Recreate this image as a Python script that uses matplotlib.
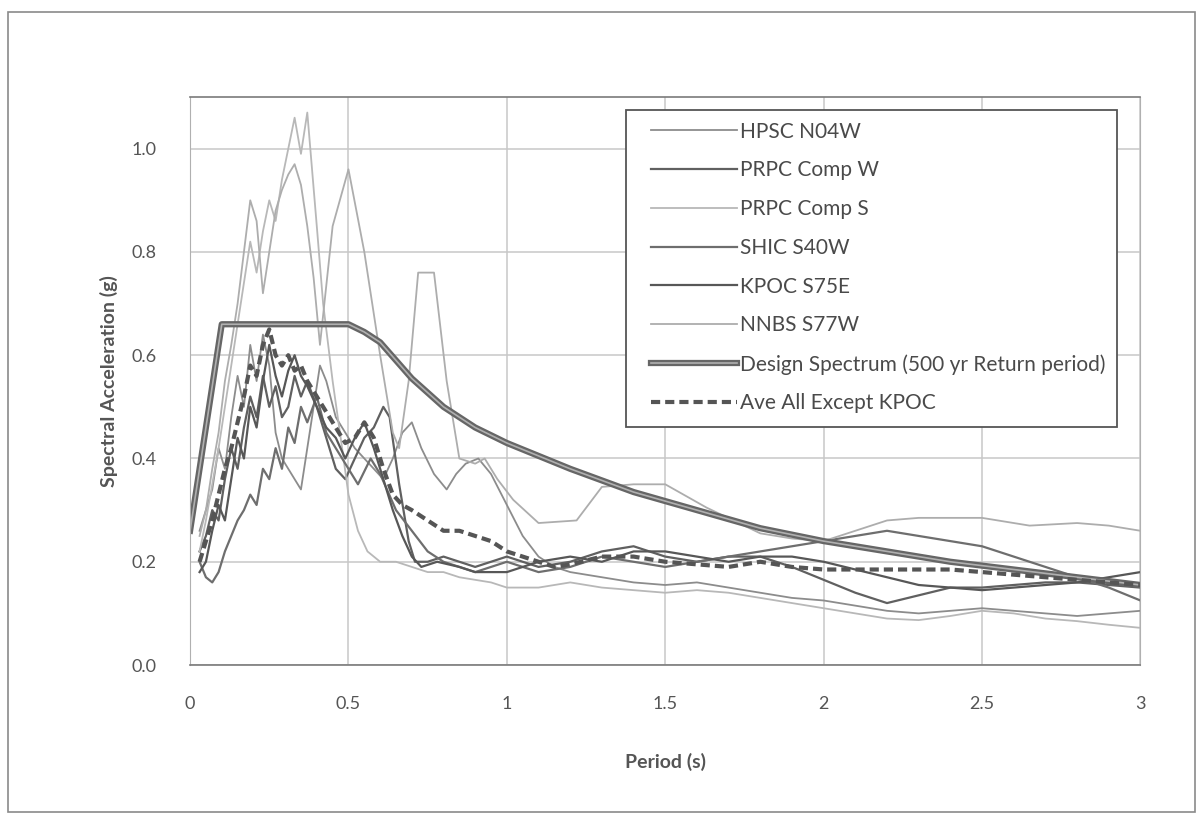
import matplotlib
matplotlib.use("Agg")
import matplotlib.pyplot as plt
import matplotlib.patheffects as pe
from matplotlib.patches import Rectangle

plt.rcParams['font.family'] = ['Lato', 'DejaVu Sans']

# ---- data ----
hpsc_t = [0.03, 0.05, 0.07, 0.09, 0.11, 0.13, 0.15, 0.17, 0.19, 0.21, 0.23, 0.25, 0.27, 0.29, 0.31, 0.33, 0.35,
          0.37, 0.39, 0.41, 0.43, 0.46, 0.49, 0.52, 0.55, 0.58, 0.61, 0.64, 0.67, 0.70, 0.73, 0.77, 0.81, 0.84,
          0.87, 0.91, 0.95, 1.0, 1.05, 1.1, 1.15, 1.2, 1.3, 1.4, 1.5, 1.6, 1.7, 1.8, 1.9, 2.0, 2.1, 2.2, 2.3,
          2.4, 2.5, 2.6, 2.7, 2.8, 2.9, 3.0]
hpsc_sa = [0.26, 0.30, 0.34, 0.42, 0.38, 0.48, 0.56, 0.50, 0.62, 0.55, 0.64, 0.58, 0.45, 0.40, 0.38, 0.36, 0.34,
           0.42, 0.50, 0.58, 0.55, 0.48, 0.45, 0.42, 0.40, 0.38, 0.36, 0.40, 0.45, 0.47, 0.42, 0.37, 0.34, 0.37,
           0.39, 0.40, 0.37, 0.31, 0.25, 0.21, 0.19, 0.18, 0.17, 0.16, 0.155, 0.16, 0.15, 0.14, 0.13, 0.125,
           0.115, 0.105, 0.10, 0.105, 0.11, 0.105, 0.10, 0.095, 0.10, 0.105]

prpcw_t = [0.03, 0.05, 0.07, 0.09, 0.11, 0.13, 0.15, 0.17, 0.19, 0.21, 0.23, 0.25, 0.27, 0.29, 0.31, 0.33, 0.35,
           0.37, 0.40, 0.43, 0.46, 0.49, 0.52, 0.55, 0.58, 0.61, 0.63, 0.66, 0.69, 0.71, 0.75, 0.80, 0.85, 0.90,
           0.95, 1.0, 1.05, 1.1, 1.2, 1.3, 1.4, 1.5, 1.6, 1.7, 1.8, 1.9, 2.0, 2.1, 2.2, 2.3, 2.4, 2.5, 2.6, 2.7,
           2.8, 2.9, 3.0]
prpcw_sa = [0.22, 0.25, 0.30, 0.28, 0.36, 0.42, 0.38, 0.46, 0.52, 0.48, 0.56, 0.50, 0.54, 0.48, 0.50, 0.56, 0.52,
            0.55, 0.50, 0.44, 0.38, 0.36, 0.40, 0.44, 0.46, 0.50, 0.48, 0.35, 0.24, 0.20, 0.20, 0.21, 0.20, 0.19,
            0.20, 0.21, 0.20, 0.19, 0.20, 0.22, 0.23, 0.21, 0.20, 0.21, 0.21, 0.19, 0.165, 0.14, 0.12, 0.135,
            0.15, 0.15, 0.155, 0.16, 0.16, 0.155, 0.15]

prpcs_t = [0.03, 0.05, 0.07, 0.09, 0.11, 0.13, 0.15, 0.17, 0.19, 0.21, 0.23, 0.25, 0.27, 0.29, 0.31, 0.33, 0.35,
           0.37, 0.40, 0.42, 0.45, 0.48, 0.50, 0.53, 0.56, 0.60, 0.65, 0.70, 0.75, 0.80, 0.85, 0.90, 0.95, 1.0,
           1.1, 1.2, 1.3, 1.4, 1.5, 1.6, 1.7, 1.8, 1.9, 2.0, 2.1, 2.2, 2.3, 2.4, 2.5, 2.6, 2.7, 2.8, 2.9, 3.0]
prpcs_sa = [0.22, 0.28, 0.35, 0.42, 0.50, 0.58, 0.66, 0.74, 0.82, 0.76, 0.84, 0.90, 0.86, 0.94, 1.00, 1.06, 0.99,
            1.07, 0.85, 0.70, 0.55, 0.42, 0.33, 0.26, 0.22, 0.20, 0.20, 0.19, 0.18, 0.18, 0.17, 0.165, 0.16,
            0.15, 0.15, 0.16, 0.15, 0.145, 0.14, 0.145, 0.14, 0.13, 0.12, 0.11, 0.10, 0.09, 0.087, 0.095, 0.105,
            0.10, 0.09, 0.085, 0.078, 0.072]

shic_t = [0.03, 0.05, 0.07, 0.09, 0.11, 0.13, 0.15, 0.17, 0.19, 0.21, 0.23, 0.25, 0.27, 0.29, 0.31, 0.33, 0.35,
          0.37, 0.40, 0.43, 0.46, 0.50, 0.53, 0.57, 0.60, 0.65, 0.70, 0.75, 0.80, 0.85, 0.90, 0.95, 1.0, 1.05,
          1.1, 1.2, 1.3, 1.4, 1.5, 1.6, 1.7, 1.8, 1.9, 2.0, 2.1, 2.2, 2.3, 2.4, 2.5, 2.6, 2.7, 2.8, 2.9, 3.0]
shic_sa = [0.20, 0.17, 0.16, 0.18, 0.22, 0.25, 0.28, 0.30, 0.33, 0.31, 0.38, 0.36, 0.42, 0.38, 0.46, 0.43, 0.50,
           0.47, 0.52, 0.45, 0.42, 0.38, 0.35, 0.40, 0.37, 0.30, 0.26, 0.22, 0.20, 0.19, 0.18, 0.19, 0.20, 0.19,
           0.18, 0.19, 0.21, 0.20, 0.19, 0.20, 0.21, 0.22, 0.23, 0.24, 0.25, 0.26, 0.25, 0.24, 0.23, 0.21, 0.19,
           0.17, 0.15, 0.125]

kpoc_t = [0.03, 0.05, 0.07, 0.09, 0.11, 0.13, 0.15, 0.17, 0.19, 0.21, 0.23, 0.25, 0.27, 0.29, 0.31, 0.33, 0.35,
          0.37, 0.40, 0.43, 0.46, 0.49, 0.52, 0.55, 0.58, 0.61, 0.64, 0.67, 0.70, 0.73, 0.78, 0.85, 0.90, 1.0,
          1.1, 1.2, 1.3, 1.4, 1.5, 1.6, 1.7, 1.8, 1.9, 2.0, 2.1, 2.2, 2.3, 2.4, 2.5, 2.6, 2.7, 2.8, 2.9, 3.0]
kpoc_sa = [0.18, 0.20, 0.26, 0.31, 0.28, 0.36, 0.44, 0.40, 0.50, 0.46, 0.55, 0.62, 0.56, 0.52, 0.57, 0.60, 0.56,
           0.54, 0.50, 0.46, 0.44, 0.40, 0.44, 0.47, 0.42, 0.36, 0.30, 0.25, 0.21, 0.19, 0.20, 0.19, 0.18, 0.18,
           0.20, 0.21, 0.20, 0.22, 0.22, 0.21, 0.20, 0.21, 0.21, 0.20, 0.185, 0.17, 0.155, 0.15, 0.145, 0.15,
           0.155, 0.16, 0.17, 0.18]

nnbs_t = [0.03, 0.05, 0.07, 0.09, 0.11, 0.13, 0.15, 0.17, 0.19, 0.21, 0.23, 0.25, 0.27, 0.29, 0.31, 0.33, 0.35,
          0.37, 0.39, 0.41, 0.45, 0.50, 0.55, 0.60, 0.64, 0.66, 0.69, 0.72, 0.77, 0.81, 0.85, 0.90, 0.93, 0.97,
          1.02, 1.1, 1.22, 1.3, 1.4, 1.5, 1.63, 1.8, 1.9, 2.0, 2.1, 2.2, 2.3, 2.4, 2.5, 2.65, 2.8, 2.9, 3.0]
nnbs_sa = [0.25, 0.30, 0.38, 0.45, 0.55, 0.62, 0.70, 0.80, 0.90, 0.86, 0.72, 0.80, 0.88, 0.92, 0.95, 0.97, 0.93,
           0.85, 0.75, 0.62, 0.85, 0.96, 0.80, 0.60, 0.45, 0.42, 0.55, 0.76, 0.76, 0.55, 0.40, 0.39, 0.40, 0.36,
           0.32, 0.275, 0.28, 0.345, 0.35, 0.35, 0.305, 0.255, 0.245, 0.24, 0.26, 0.28, 0.285, 0.285, 0.285,
           0.27, 0.275, 0.27, 0.26]

design_t = [0.0, 0.1, 0.5, 0.55, 0.6, 0.65, 0.7, 0.8, 0.9, 1.0, 1.2, 1.4, 1.6, 1.8, 2.0, 2.2, 2.4, 2.6, 2.8, 3.0]
design_sa = [0.26, 0.66, 0.66, 0.645, 0.625, 0.59, 0.555, 0.50, 0.46, 0.43, 0.38, 0.335, 0.30, 0.265, 0.24,
             0.22, 0.20, 0.185, 0.17, 0.155]

ave_t = [0.03, 0.05, 0.07, 0.09, 0.11, 0.13, 0.15, 0.17, 0.19, 0.21, 0.23, 0.25, 0.27, 0.29, 0.31, 0.33, 0.35,
         0.37, 0.40, 0.43, 0.46, 0.49, 0.52, 0.55, 0.58, 0.61, 0.64, 0.67, 0.70, 0.75, 0.80, 0.85, 0.90, 0.95,
         1.0, 1.05, 1.1, 1.15, 1.2, 1.3, 1.4, 1.5, 1.6, 1.7, 1.8, 1.9, 2.0, 2.1, 2.2, 2.3, 2.4, 2.5, 2.6, 2.7,
         2.8, 2.9, 3.0]
ave_sa = [0.20, 0.24, 0.28, 0.33, 0.38, 0.42, 0.47, 0.52, 0.58, 0.56, 0.62, 0.65, 0.60, 0.58, 0.60, 0.57, 0.58,
          0.55, 0.52, 0.49, 0.46, 0.43, 0.44, 0.47, 0.44, 0.38, 0.33, 0.31, 0.30, 0.28, 0.26, 0.26, 0.25, 0.24,
          0.22, 0.21, 0.20, 0.19, 0.195, 0.21, 0.21, 0.20, 0.195, 0.19, 0.20, 0.19, 0.185, 0.185, 0.185, 0.185,
          0.185, 0.18, 0.175, 0.17, 0.165, 0.16, 0.155]

series = [
    ("HPSC N04W", hpsc_t, hpsc_sa, "#8c8c8c", 1.3),
    ("PRPC Comp W", prpcw_t, prpcw_sa, "#606060", 1.6),
    ("PRPC Comp S", prpcs_t, prpcs_sa, "#b8b8b8", 1.3),
    ("SHIC S40W", shic_t, shic_sa, "#6e6e6e", 1.6),
    ("KPOC S75E", kpoc_t, kpoc_sa, "#575757", 1.6),
    ("NNBS S77W", nnbs_t, nnbs_sa, "#adadad", 1.3),
]

# ---- figure ----
fig = plt.figure(figsize=(12.03, 8.19), dpi=100)
fig.patches.append(Rectangle((0.007, 0.008), 0.986, 0.977, transform=fig.transFigure,
                             fill=False, edgecolor="#8a8a8a", linewidth=1.2))
ax = fig.add_axes([0.158, 0.188, 0.790, 0.6935])

for name, t, sa, c, lw in series:
    ax.plot(t, sa, color=c, linewidth=lw, label=name)

ax.plot(design_t, design_sa, color="#b0b0b0", linewidth=1.2,
        label="Design Spectrum (500 yr Return period)",
        path_effects=[pe.Stroke(linewidth=4.5, foreground="#666666"), pe.Normal()])
ax.plot(ave_t, ave_sa, color="#555555", linewidth=3, linestyle=(0, (2.2, 1.2)),
        label="Ave All Except KPOC")

ax.set_xlim(0, 3)
ax.set_ylim(0, 1.1)
ax.set_xticks([0, 0.5, 1, 1.5, 2, 2.5, 3])
ax.set_xticklabels(["0", "0.5", "1", "1.5", "2", "2.5", "3"])
ax.set_yticks([0, 0.2, 0.4, 0.6, 0.8, 1.0])
ax.set_yticklabels(["0.0", "0.2", "0.4", "0.6", "0.8", "1.0"])
ax.tick_params(length=0, labelsize=13, labelcolor="#555555", pad=22)
ax.tick_params(axis="y", pad=24)
ax.grid(True, color="#c8c8c8", linewidth=1.1)
ax.set_axisbelow(True)
for side in ["top", "bottom"]:
    ax.spines[side].set_color("#7a7a7a")
    ax.spines[side].set_linewidth(1.2)
ax.spines["left"].set_color("#b0b0b0")
ax.spines["right"].set_color("#b0b0b0")

ax.set_xlabel("Period (s)", fontsize=14, color="#555555", fontweight="bold", labelpad=30)
ax.set_ylabel("Spectral Acceleration (g)", fontsize=14, color="#555555", fontweight="bold", labelpad=10)

# legend without its own frame; the box is drawn separately to get the wider left margin
leg = ax.legend(loc="upper right", bbox_to_anchor=(0.975, 0.977), borderaxespad=0, fontsize=15,
                frameon=False, handlelength=4.1, handletextpad=0.15,
                labelspacing=0.9, borderpad=0.55, labelcolor="#4a4a4a")
ax.add_patch(Rectangle((0.459, 0.419), 0.516, 0.558, transform=ax.transAxes, fill=True,
                       facecolor="white", edgecolor="#555555", linewidth=1.3, zorder=4.9))

fig.savefig("out.png", dpi=100)
